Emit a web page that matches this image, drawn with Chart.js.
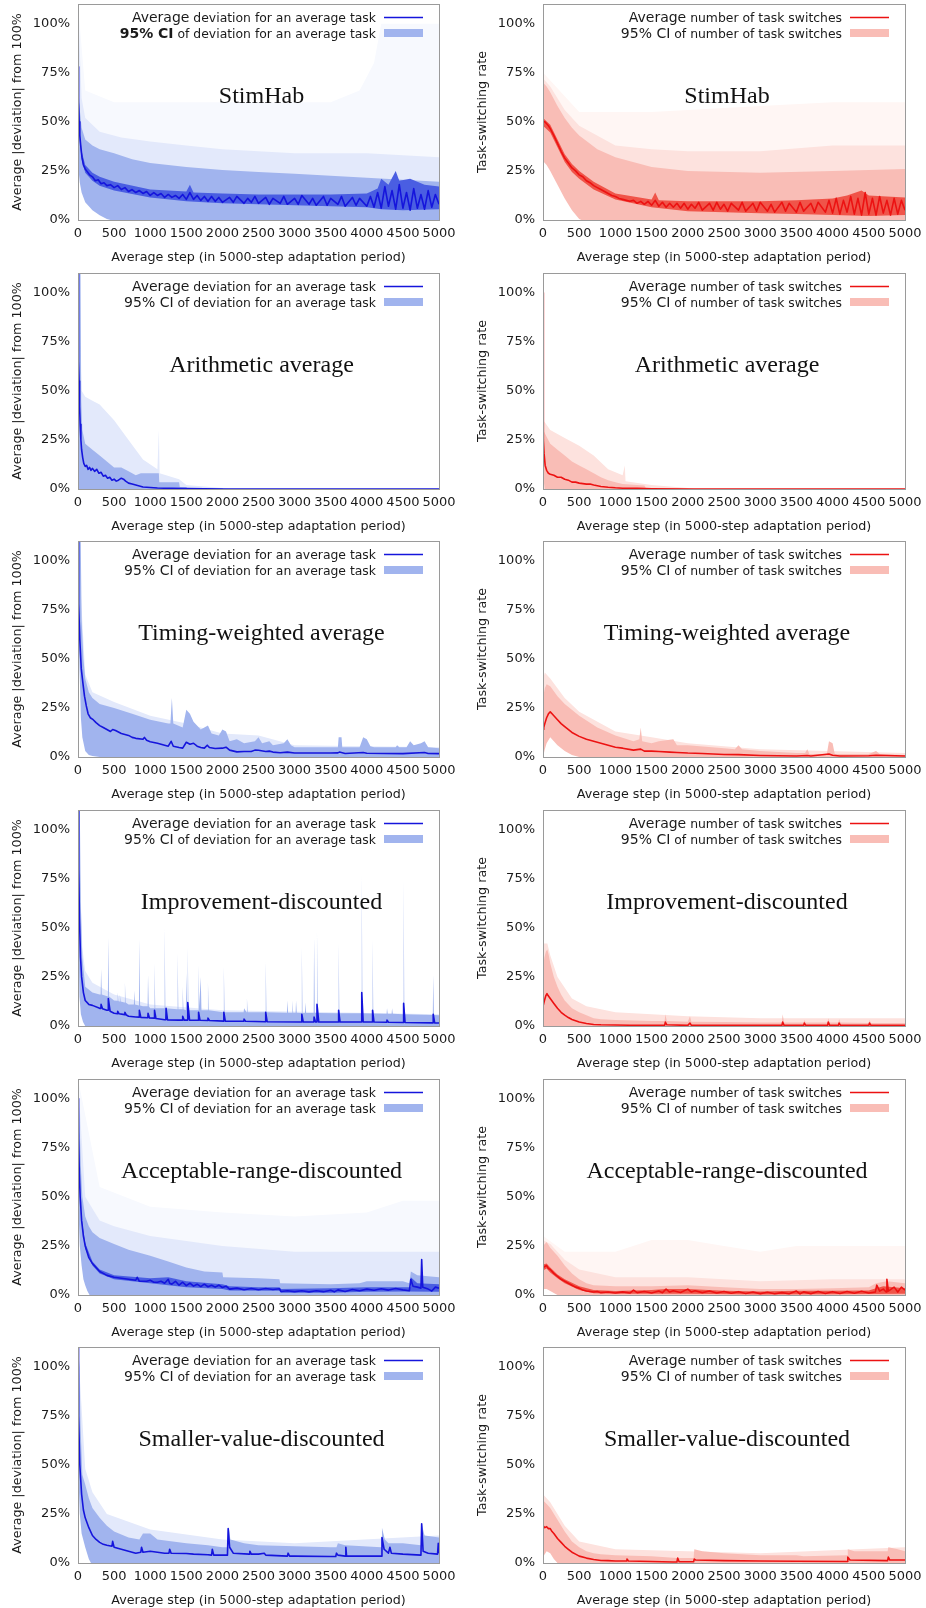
<!DOCTYPE html>
<html>
<head>
<meta charset="utf-8">
<script src="https://cdn.jsdelivr.net/npm/chart.js@4.4.1/dist/chart.umd.min.js"></script>
<style>
  html, body { margin: 0; padding: 0; background: #fff; width: 926px; height: 1608px; overflow: hidden; }
  .panel { position: absolute; width: 463px; height: 268px; }
</style>
</head>
<body>
<script>
const xTicks = [0, 500, 1000, 1500, 2000, 2500, 3000, 3500, 4000, 4500, 5000];
const yTicks = [0, 25, 50, 75, 100];
const panelTitles = ['StimHab', 'Arithmetic average', 'Timing-weighted average', 'Improvement-discounted', 'Acceptable-range-discounted', 'Smaller-value-discounted'];
const devAxisTitle = 'Average |deviation| from 100%';
const swAxisTitle = 'Task-switching rate';
const stepAxisTitle = 'Average step (in 5000-step adaptation period)';
const devLegend = ['Average', ' deviation for an average task', '95% CI', ' of deviation for an average task'];
const swLegend = ['Average', ' number of task switches', '95% CI', ' of number of task switches'];

// [step, percent] pairs

// StimHab
const shDevMean = [[0,78],[8,60],[16,50],[25,43],[40,37],[55,32],[75,28],[100,26],[130,24.5],[160,23],[200,22],[240,20],[280,20.5],[320,18.5],[360,19],[400,17.5],[450,18],[500,16.5],[550,17.5],[600,15.5],[650,16.5],[700,14.5],[750,15.5],[800,14],[850,15],[900,13.5],[950,14.5],[1000,12.5],[1050,14],[1100,12.5],[1150,13.5],[1200,11.5],[1250,13],[1300,11.5],[1350,12.5],[1400,11],[1450,13],[1500,10.5],[1550,14],[1600,10.5],[1650,12.5],[1700,10],[1750,12],[1800,9.5],[1850,12],[1900,9.5],[1950,11.5],[2000,9],[2100,11.5],[2150,9],[2200,12],[2300,8.5],[2350,11],[2400,9],[2450,12],[2500,8.5],[2600,11.5],[2650,8],[2700,11],[2800,8.5],[2850,12],[2900,8],[3000,11],[3050,8],[3100,12.5],[3200,8],[3250,11],[3300,7.5],[3400,12],[3450,7.5],[3500,11],[3600,8],[3650,12],[3700,7],[3800,11.5],[3850,7.5],[3900,11],[4000,7],[4050,12],[4100,6.5],[4150,14],[4200,6],[4250,17],[4300,7],[4350,15],[4400,5.5],[4450,18],[4500,6],[4550,14],[4600,5],[4650,16],[4700,6],[4750,13],[4800,5.5],[4850,15],[4900,6.5],[4950,13],[5000,8]];
const shDevNoiseHi = [[0,80],[25,45],[50,35],[100,28],[200,24],[300,22],[500,19.5],[1000,15.5],[1500,14.5],[1550,18],[1600,14],[2000,13.5],[2500,13],[3000,13],[3500,13],[4000,13.5],[4150,16],[4200,21],[4300,18],[4400,25],[4450,20],[4600,21],[4800,18],[5000,17]];
const shDevNoiseLo = [[0,76],[25,40],[50,31],[100,24],[200,20],[300,17.5],[500,15],[1000,11.5],[1500,9.5],[2000,8.5],[2500,8],[3000,7.5],[3500,7],[4000,6.5],[4200,5.5],[4500,5],[5000,5.5]];
const shDevLo = [[0,65],[5,40],[12,25],[25,19],[50,14],[100,9],[150,7],[200,5],[300,2.4],[400,0.5],[450,0],[5000,0]];
const shDevHi = [[0,110],[5,80],[12,65],[25,56],[50,47],[100,41],[200,38],[300,36],[500,34],[750,31],[1000,29],[1500,27],[2000,25.5],[2500,24.5],[3000,23.5],[3500,22.5],[4000,21.5],[4500,20.5],[5000,19.5]];
const shDevHaze = [[0,110],[50,62],[100,52],[300,45],[600,42],[1000,40],[1500,38],[2000,36],[3000,34],[4000,34],[5000,32]];
const shDevFaint = [[0,110],[100,66],[500,60],[3500,60],[3900,66],[4100,80],[4200,100],[5000,100]];

const shSwMean = [[0,50],[25,50],[50,49],[75,48],[100,46.5],[150,43],[200,39],[250,35],[300,31.5],[350,29],[400,26.5],[450,25],[500,23],[550,22],[600,20],[650,19],[700,17.5],[750,16.5],[800,15.5],[850,14.5],[900,13.5],[950,12.5],[1000,12],[1050,11],[1100,10.5],[1150,10],[1200,9.5],[1250,10],[1300,8.5],[1350,9.5],[1400,8],[1450,9.5],[1500,7.5],[1550,10],[1600,7],[1650,9],[1700,6.5],[1750,8.5],[1800,6.5],[1850,8.5],[1900,6],[1950,8.5],[2000,5.5],[2050,8],[2100,6],[2150,9],[2200,5],[2300,8.5],[2350,5],[2400,9],[2450,5.5],[2500,8],[2550,4.5],[2600,8.5],[2700,5],[2750,9],[2800,4.5],[2900,8.5],[2950,4.5],[3000,9],[3100,4.5],[3150,8],[3200,4],[3300,9],[3350,4.5],[3400,8.5],[3500,4],[3550,9],[3600,4.5],[3700,8.5],[3750,4],[3800,9],[3900,4],[3950,10],[4000,3.5],[4050,11],[4100,3],[4150,10],[4200,4],[4250,12],[4300,3],[4350,11],[4400,2.5],[4450,14],[4500,3],[4550,11],[4600,2.5],[4650,12],[4700,3.5],[4750,10],[4800,2.5],[4850,11],[4900,3],[4950,10],[5000,5]];
const shSwNoiseHi = [[0,52],[100,48.5],[200,41],[300,33.5],[400,28.5],[500,25],[700,19.5],[1000,13.5],[1500,10.5],[1550,14],[1600,10],[2000,9.5],[2500,9.5],[3000,9.5],[3500,10],[4000,11],[4200,12.5],[4400,15],[4500,12.5],[5000,11.5]];
const shSwNoiseLo = [[0,48],[100,44.5],[200,37],[300,29.5],[400,24.5],[500,21],[700,15.5],[1000,10.5],[1500,6.5],[2000,4.5],[2500,4],[3000,3.5],[3500,3],[4000,2.5],[4500,2],[5000,2.5]];
const shSwLo = [[0,30],[50,28],[100,25],[200,18],[300,11],[400,5],[500,0.5],[530,0],[5000,0]];
const shSwHi = [[0,70],[50,68],[100,65],[200,58],[300,52],[400,47],[500,43],[750,36],[1000,32],[1500,27],[2000,25],[3000,24],[4000,25],[5000,26]];
const shSwHaze = [[0,72],[100,68],[300,56],[500,48],[1000,38],[1500,36],[2000,35],[3000,35],[4000,38],[5000,38]];
const shSwFaint = [[0,100],[3,75],[500,55],[1000,55],[1500,55],[3000,58],[4000,60],[5000,60]];

// Arithmetic average
const arDevMean = [[0,110],[5,80],[10,65],[15,55],[22,42],[30,33],[40,25],[50,20],[65,16],[80,13],[100,11.5],[120,12],[140,10],[160,11],[180,9.5],[200,10.5],[230,9],[260,10],[290,8],[320,8.5],[350,6.5],[380,7],[410,5.5],[440,6],[470,4.5],[500,5],[530,4],[560,4.5],[600,5.5],[630,5],[660,4],[700,3],[750,2.5],[800,2],[850,1.5],[900,1],[1000,0.8],[1100,0.5],[1300,0.3],[1500,0.2],[2000,0],[5000,0]];
const arDevLo = [[0,70],[5,30],[12,0],[5000,0]];
const arDevHi = [[0,110],[35,110],[45,45],[60,30],[100,23],[200,20],[300,17],[400,14],[500,11],[600,11],[700,9],[800,7],[870,8],[1120,8],[1125,3.5],[1400,3.5],[1410,1],[1500,1],[1510,0.5],[2000,0.5],[2010,0],[5000,0]];
const arDevHaze = [[0,110],[50,50],[100,47],[200,45],[300,43],[500,35],[700,25],[900,15],[1100,10],[1120,30],[1130,8],[1400,5],[1500,2],[2000,0.5],[2100,0],[5000,0]];

const arSwMean = [[0,100],[2,35],[8,25],[15,18],[30,12],[50,9.5],[75,8],[100,7.5],[150,7],[200,6],[250,6],[300,5],[350,4.5],[400,3.5],[450,3.5],[500,3],[600,2.5],[650,2.5],[700,2],[800,1.3],[900,0.9],[1000,0.6],[1100,0.4],[1300,0.3],[1500,0.1],[2000,0],[5000,0]];
const arSwLo = [[0,15],[10,5],[20,0],[5000,0]];
const arSwHi = [[0,100],[5,30],[30,28],[100,23],[200,20],[300,17],[400,14],[500,12],[600,10],[700,8],[800,6],[900,4.5],[1000,3.5],[1100,2.5],[1400,1.8],[1420,0.5],[2000,0.3],[2010,0],[5000,0]];
const arSwHaze = [[0,100],[5,35],[100,30],[300,26],[500,22],[700,17],[900,10],[1100,7],[1130,12],[1140,4],[1500,2],[2000,0.5],[2100,0],[5000,0]];

// Timing-weighted average
const twDevMean = [[0,110],[5,90],[12,78],[25,60],[45,45],[70,37],[90,31],[115,26],[140,22],[170,20],[210,19],[250,17.5],[300,16],[350,15],[400,14],[450,13],[480,14],[520,13.5],[600,12],[700,11],[750,10],[800,9.5],[900,9],[920,10],[950,8.5],[1000,7.8],[1100,7],[1200,6],[1250,5.5],[1290,8],[1320,5.5],[1400,4.8],[1450,4.5],[1500,7.5],[1550,6.5],[1600,7],[1650,5.5],[1700,4.8],[1750,4.5],[1790,6],[1820,4.8],[1900,4.3],[2000,4.5],[2050,5],[2100,3.5],[2200,2.6],[2300,2.8],[2400,2.8],[2450,3.5],[2500,3.4],[2600,2.8],[2650,3],[2700,2.5],[2800,2.2],[2900,2.5],[3000,2],[3200,2],[3500,2],[3600,2.1],[3620,2.5],[3700,1.8],[3950,2.3],[4000,1.9],[4500,1.7],[4800,2.3],[4850,1.8],[5000,1.7]];
const twDevLo = [[0,90],[10,60],[25,40],[40,20],[60,10],[100,3],[150,1],[200,0.5],[300,0],[5000,0]];
const twDevHi = [[0,110],[38,110],[50,70],[75,50],[100,40],[150,33],[200,30],[300,27],[500,25],[750,22],[1000,19],[1250,17],[1280,17],[1300,30],[1320,17],[1450,15],[1500,24],[1550,22],[1600,18],[1700,14],[1800,16],[1850,12],[1950,11],[2000,14],[2050,13],[2100,8],[2200,9],[2300,7],[2450,8],[2500,10],[2550,7],[2650,8],[2700,6],[2850,7],[2900,9],[2950,6],[3000,5],[3600,5],[3610,10],[3650,10],[3660,5],[3900,5],[3950,10],[4000,9],[4050,5.5],[4100,5],[4400,5],[4420,6],[4450,5],[4550,5],[4600,8],[4650,6],[4750,7],[4800,8],[4850,5],[5000,4.5]];
const twDevHaze = [[0,110],[100,42],[200,33],[500,28],[1000,21],[1500,17],[2000,12],[2500,11],[3000,6],[5000,5]];

const twSwMean = [[0,14],[10,15],[25,17],[50,20],[75,22],[100,23],[125,22],[150,21],[200,19],[250,17],[300,15.5],[400,12.5],[500,10.5],[600,9],[750,7.5],[900,6],[1000,5],[1100,4.5],[1250,3.5],[1350,4],[1400,3],[1500,3],[1600,2.8],[1750,2.5],[1850,2.3],[2000,2],[2200,1.8],[2500,1.3],[2700,1.2],[3000,0.8],[3500,0.5],[3650,0.8],[3700,0.5],[3950,1.5],[4000,0.9],[4100,0.5],[4500,0.6],[4600,0.9],[5000,0.5]];
const twSwLo = [[0,0],[25,4],[50,7],[100,10],[150,8],[200,6],[300,3],[400,1],[500,0],[5000,0]];
const twSwHi = [[0,30],[25,35],[50,37],[100,36],[200,31],[300,27],[500,21],[750,15],[1000,11],[1250,8],[1330,9],[1350,15],[1370,8],[1500,7],[1600,8],[1800,9],[1850,6],[2000,6],[2500,4.5],[2650,4],[2700,6],[2750,4],[3000,3],[3500,2],[3620,2],[3650,4],[3680,1.5],[3920,1.5],[3950,8],[4000,7],[4030,1.5],[4500,1.5],[4600,3],[4650,1.5],[5000,1]];
const twSwHaze = [[0,100],[3,40],[25,43],[100,40],[300,30],[500,23],[1000,13],[1500,10],[2000,7],[3000,4],[5000,2]];

// Improvement-discounted
const imDevMean = [[0,110],[10,80],[20,55],[35,35],[50,25],[75,17],[100,13],[150,11],[200,10.5],[300,9],[317,9],[320,11],[340,8.8],[400,8],[417,8],[420,14],[445,7.5],[500,6.5],[547,6.3],[550,7.5],[570,6.2],[647,5.8],[650,7],[670,5.6],[700,5],[800,4.6],[847,4.5],[850,8],[870,4.4],[967,4.2],[970,6.5],[990,4.1],[1057,4],[1060,8],[1080,3.8],[1200,3.2],[1217,3.2],[1220,9],[1240,3.1],[1400,3],[1447,3],[1450,5],[1470,3],[1517,3],[1520,12],[1545,3],[1667,2.9],[1670,7],[1690,2.9],[1797,2.8],[1800,4],[1820,2.8],[2017,2.5],[2020,7],[2040,2.5],[2297,2.4],[2300,3.5],[2320,2.4],[2597,2.2],[2600,7],[2620,2.2],[3097,2],[3100,6],[3120,2],[3267,2],[3270,4.5],[3290,2],[3307,2],[3310,11],[3335,2],[3607,2],[3610,8],[3630,2],[3927,2],[3930,17],[3950,2],[4077,2],[4080,8],[4100,2],[4277,1.9],[4280,3],[4300,1.9],[4507,1.8],[4510,11.5],[4530,1.8],[4917,1.6],[4920,6],[4940,1.6],[5000,1.5]];
const imDevLo = [[0,85],[10,40],[20,15],[40,6],[70,2],[100,0],[5000,0]];
const imDevHi = [[0,110],[25,110],[40,60],[60,35],[100,20],[200,17],[300,16],[314,16],[320,29],[330,16],[414,15],[420,45],[430,15],[500,13],[544,12.8],[550,17],[560,12.7],[574,12.5],[580,16],[590,12.5],[644,12],[650,22],[660,12],[700,11],[774,11],[780,18],[790,11],[844,10.5],[850,44],[860,10.5],[900,10],[964,10],[970,26],[980,10],[1000,9],[1054,9],[1060,32],[1070,9],[1194,9],[1200,50],[1210,9],[1374,8.5],[1380,37],[1390,8.5],[1444,8.5],[1450,20],[1460,8.5],[1494,8],[1500,27],[1510,8],[1520,40],[1530,8],[1664,8],[1670,31],[1680,10],[1700,25],[1710,8],[1794,8],[1800,22],[1810,8],[2014,7],[2020,30],[2030,7],[2294,7],[2300,9],[2334,7],[2340,14],[2350,7],[2594,7],[2600,33],[2610,7],[2894,6.8],[2900,13],[2910,6.8],[2964,6.8],[2970,13],[2980,6.8],[3014,6.7],[3020,13],[3030,6.7],[3094,6.6],[3100,40],[3110,6.6],[3144,6.6],[3150,12],[3160,6.6],[3264,6.6],[3270,45],[3280,6.6],[3304,6.6],[3310,48],[3320,6.6],[3604,6.5],[3610,42],[3620,6.5],[3924,6.5],[3930,77],[3940,6.5],[4074,6.4],[4080,44],[4090,6.4],[4274,6.2],[4280,9],[4290,6.2],[4344,6.2],[4350,9],[4360,6.2],[4504,6],[4510,74],[4520,6],[4914,5.6],[4920,26],[4930,5.6],[5000,5.5]];
const imDevHaze = [[0,110],[60,40],[100,28],[200,22],[500,16],[1000,11],[2000,8],[5000,6]];

const imSwMean = [[0,10],[20,13],[40,15.5],[55,16.5],[70,15.5],[100,14],[150,11.5],[200,9],[250,7],[300,5.5],[350,4.3],[400,3.3],[500,2],[600,1.3],[700,0.8],[800,0.6],[1000,0.5],[1200,0.4],[1500,0.4],[1680,0.4],[1690,2],[1710,0.6],[2000,0.3],[2030,1.5],[2050,0.3],[3300,0.3],[3310,2],[3330,0.3],[3600,0.3],[3610,1.5],[3630,0.3],[3930,0.3],[3940,2],[3960,0.3],[4080,0.3],[4090,1.5],[4110,0.3],[4500,0.3],[4510,1.5],[4530,0.3],[5000,0.3]];
const imSwLo = [[0,0],[5000,0]];
const imSwHi = [[0,30],[20,35],[40,38],[60,39],[80,36],[100,32],[150,25],[200,20],[250,16],[300,13],[400,9],[500,7],[600,5.5],[700,4],[800,3.5],[1000,3],[1500,2.5],[1680,2.5],[1690,6],[1710,2.5],[2000,2.2],[2030,5],[2050,2.2],[2500,2],[3000,1.8],[3300,1.8],[3310,6],[3330,1.8],[3600,1.8],[3610,3],[3630,1.8],[3930,1.8],[3940,4],[3960,1.8],[4080,1.8],[4090,3.5],[4110,1.8],[4500,1.5],[4510,3],[4530,1.5],[5000,1.5]];
const imSwHaze = [[0,42],[60,42],[100,36],[200,25],[400,14],[600,10],[1000,7],[2000,5],[3000,4],[5000,4]];

// Acceptable-range-discounted
const acDevMean = [[0,100],[8,80],[18,62],[30,50],[50,38],[75,30],[100,25],[150,19],[200,16],[250,14],[300,12],[350,11],[400,10],[500,9],[600,8.5],[700,8],[800,7.5],[820,9],[850,7],[950,7],[1000,7.5],[1050,6.5],[1100,6.5],[1150,7],[1200,6],[1250,8],[1270,6],[1300,5.5],[1350,7],[1400,5],[1450,6.5],[1500,4.8],[1550,6],[1600,4.5],[1650,5.5],[1700,4.3],[1750,5.5],[1800,4.2],[1850,5],[1900,4],[1950,5],[2000,3.8],[2050,4.5],[2100,3],[2200,3.5],[2300,2.7],[2400,3.3],[2500,2.7],[2600,3.3],[2700,2.8],[2790,3.2],[2810,1.8],[2900,2.2],[3000,1.7],[3100,2.2],[3200,1.6],[3300,2.2],[3400,1.7],[3500,2.4],[3550,1.6],[3600,2.6],[3700,1.8],[3800,2.8],[3900,2.2],[4000,3],[4100,2.4],[4200,3.2],[4300,2.5],[4400,3.3],[4500,2.6],[4590,2.2],[4610,8],[4640,4.5],[4700,4],[4750,3.5],[4760,18],[4775,4],[4850,3],[4900,2],[4950,4],[5000,3.5]];
const acDevNoiseHi = [[0,100],[50,39],[100,26.5],[200,17],[300,13],[500,10],[1000,8.5],[1250,9],[1500,7],[2000,5.5],[2100,4.5],[2500,4],[2790,4],[2810,3],[3500,3.5],[4000,4],[4500,4],[4600,4],[4610,9],[4700,6],[5000,5.5]];
const acDevNoiseLo = [[0,98],[50,37],[100,23.5],[200,15],[300,11],[500,8],[1000,6],[1500,4],[2000,3],[2100,2.3],[2790,2.2],[2810,1.2],[3500,1.2],[4000,1.6],[4500,1.8],[5000,1.6]];
const acDevLo = [[0,60],[10,40],[25,25],[50,15],[75,8],[100,5],[130,2],[160,0],[5000,0]];
const acDevHi = [[0,110],[20,90],[40,65],[60,50],[100,40],[150,35],[200,32],[300,29],[500,26],[700,23],[1000,20],[1250,17],[1500,14],[1750,12],[2000,11.5],[2010,9],[2500,8.5],[2790,8],[2800,6],[3500,5.5],[3900,6],[4000,7],[4500,7],[4590,6],[4610,12],[4700,10],[5000,9]];
const acDevHaze = [[0,110],[100,50],[300,38],[500,35],[1000,30],[2000,25],[3000,22],[4000,22],[5000,22]];
const acDevFaint = [[0,110],[300,55],[1000,45],[2000,42],[3000,40],[4000,42],[4500,48],[5000,48]];

const acSwMean = [[0,14],[25,14.5],[50,15],[75,13.5],[100,13],[150,11],[200,9.5],[250,8],[300,7],[350,6],[400,5],[450,4],[500,3.5],[550,2.5],[600,2],[650,1.8],[700,1.5],[750,1.8],[800,1.2],[900,1.5],[1000,1],[1100,1.6],[1200,1],[1250,2.5],[1300,1.2],[1400,1.8],[1500,1],[1600,2],[1650,1.2],[1700,3],[1750,1.5],[1800,2.2],[1900,1.3],[2000,3],[2050,1.5],[2100,2.2],[2200,1.2],[2300,2],[2400,1],[2500,1.8],[2600,0.9],[2700,1.7],[2800,0.8],[2900,1.5],[3000,0.7],[3100,1.4],[3200,0.6],[3300,1.2],[3400,0.6],[3500,2],[3550,0.6],[3600,1.6],[3700,0.7],[3800,1.8],[3900,0.8],[4000,1.7],[4100,0.8],[4200,1.8],[4300,0.9],[4400,1.9],[4500,1],[4590,1.5],[4610,5],[4650,2],[4700,3],[4740,1.5],[4750,8],[4770,2],[4850,4],[4900,1.5],[4950,4],[5000,2.5]];
const acSwNoiseHi = [[0,15.5],[50,16],[100,14],[200,10.5],[300,8],[500,4.5],[700,2.5],[1000,2],[1500,2.5],[1700,3],[2000,3],[2500,2.2],[3000,1.8],[3500,2.2],[4000,2.2],[4500,2.3],[4600,3.5],[4700,4.5],[5000,3.5]];
const acSwNoiseLo = [[0,12.5],[50,13.5],[100,11.5],[200,8.5],[300,6],[500,2.5],[700,0.9],[1000,0.6],[2000,0.7],[3000,0.3],[4000,0.4],[5000,0.6]];
const acSwLo = [[0,3],[50,3],[100,2],[200,0],[5000,0]];
const acSwHi = [[0,25],[50,27],[100,24],[200,20],[300,15],[400,11],[500,8],[600,6],[700,5],[1000,4.5],[1500,4.5],[2000,5],[2500,4],[3000,3],[3500,3],[4000,3.5],[4500,4],[4600,6],[4750,7],[5000,6]];
const acSwHaze = [[0,28],[100,26],[300,18],[500,13],[1000,9],[1500,9],[2000,9],[3000,7],[4000,8],[5000,8]];
const acSwFaint = [[0,100],[3,30],[300,22],[1000,22],[1500,28],[2000,28],[2500,25],[3000,22],[3500,25],[5000,25]];

// Smaller-value-discounted
const svDevMean = [[0,110],[5,90],[10,75],[25,50],[50,35],[75,27],[100,23],[150,18],[200,14],[250,12],[300,10.5],[350,9.5],[400,9],[470,8.5],[480,11],[500,8],[600,7],[700,6],[800,5],[870,5.5],[880,8],[900,5.5],[1000,6],[1100,5.5],[1200,5],[1260,5],[1270,7],[1290,5],[1500,4.8],[1600,4.5],[1800,4.2],[1850,4],[1860,7],[1880,4],[2070,4],[2080,17.5],[2100,8],[2150,5],[2370,4.5],[2380,6],[2400,4.5],[2500,4.5],[2580,5],[2600,4],[2900,3.5],[2910,5],[2930,3.5],[3000,3.5],[3500,3.3],[3570,3.3],[3580,5],[3600,4],[3700,3.5],[3710,8],[3720,3.5],[4000,3.5],[4200,3.5],[4210,13],[4240,7],[4300,5],[4320,8],[4340,5],[4500,4.5],[4750,4],[4760,20],[4780,6],[4850,5],[4980,4.5],[4990,10],[5000,5]];
const svDevLo = [[0,70],[10,40],[25,25],[50,15],[100,8],[150,2],[180,0],[5000,0]];
const svDevHi = [[0,110],[20,100],[35,70],[60,45],[100,40],[150,33],[200,28],[300,23],[400,19],[500,16],[700,13],[850,12],[900,15],[1000,15],[1100,12],[1500,10],[1800,9],[2000,8],[2080,8],[2090,18],[2110,12],[2300,10],[2500,9],[3000,8.5],[3500,8],[3580,8],[3600,10],[3700,9],[4200,8],[4210,18],[4250,12],[4300,10],[4500,10],[4750,9],[4760,20],[4800,14],[5000,13]];
const svDevHaze = [[0,110],[100,48],[200,36],[400,25],[1000,17],[2000,12],[3000,10],[5000,14]];

const svSwMean = [[0,19],[25,18],[50,18.5],[75,17.5],[100,17.5],[125,16],[150,15],[200,12.5],[250,10.5],[300,8.5],[350,7],[400,5.5],[450,4.5],[500,3.5],[600,2.5],[700,1.8],[800,1.3],[900,1.2],[1000,1],[1150,1.1],[1160,2],[1180,1],[1500,0.8],[1800,0.5],[1850,0.5],[1860,2.5],[1880,0.6],[2080,0.6],[2090,2],[2110,1.5],[2500,1.2],[3000,1],[3500,0.9],[4200,0.8],[4210,3],[4240,1.5],[4760,1.2],[4770,3],[4790,1.5],[5000,1.5]];
const svSwLo = [[0,3],[50,6],[100,5],[150,2],[200,0],[5000,0]];
const svSwHi = [[0,32],[50,30],[100,28],[200,22],[300,16],[400,11],[500,8],[600,6],[700,5],[800,4.5],[1000,4],[1500,3.5],[1850,2.5],[2080,2.5],[2090,7],[2200,6],[2500,5],[3000,4],[3500,4],[3600,3.5],[4200,4],[4210,7],[4300,6],[4500,6],[4760,6],[4770,8],[4900,7],[5000,6]];
const svSwHaze = [[0,35],[100,31],[300,19],[500,11],[1000,7],[2000,6],[3000,5],[5000,8]];

const panels = [
  { kind: 'dev', title: panelTitles[0], mean: shDevMean, lo: shDevLo, hi: shDevHi, haze: shDevHaze, faint: shDevFaint, noiseHi: shDevNoiseHi, noiseLo: shDevNoiseLo, boldCI: true },
  { kind: 'sw',  title: panelTitles[0], mean: shSwMean,  lo: shSwLo,  hi: shSwHi,  haze: shSwHaze,  faint: shSwFaint, noiseHi: shSwNoiseHi, noiseLo: shSwNoiseLo },
  { kind: 'dev', title: panelTitles[1], mean: arDevMean, lo: arDevLo, hi: arDevHi, haze: arDevHaze },
  { kind: 'sw',  title: panelTitles[1], mean: arSwMean,  lo: arSwLo,  hi: arSwHi,  haze: arSwHaze },
  { kind: 'dev', title: panelTitles[2], mean: twDevMean, lo: twDevLo, hi: twDevHi, haze: twDevHaze },
  { kind: 'sw',  title: panelTitles[2], mean: twSwMean,  lo: twSwLo,  hi: twSwHi,  haze: twSwHaze },
  { kind: 'dev', title: panelTitles[3], mean: imDevMean, lo: imDevLo, hi: imDevHi, haze: imDevHaze },
  { kind: 'sw',  title: panelTitles[3], mean: imSwMean,  lo: imSwLo,  hi: imSwHi,  haze: imSwHaze },
  { kind: 'dev', title: panelTitles[4], mean: acDevMean, lo: acDevLo, hi: acDevHi, haze: acDevHaze, faint: acDevFaint, noiseHi: acDevNoiseHi, noiseLo: acDevNoiseLo },
  { kind: 'sw',  title: panelTitles[4], mean: acSwMean,  lo: acSwLo,  hi: acSwHi,  haze: acSwHaze,  faint: acSwFaint, noiseHi: acSwNoiseHi, noiseLo: acSwNoiseLo },
  { kind: 'dev', title: panelTitles[5], mean: svDevMean, lo: svDevLo, hi: svDevHi, haze: svDevHaze },
  { kind: 'sw',  title: panelTitles[5], mean: svSwMean,  lo: svSwLo,  hi: svSwHi,  haze: svSwHaze }
];

const looks = {
  dev: { line: '#1515dc', noise: '#4a5ee2', band: '#a1b4ee', haze: '#e3e9fb', faint: '#f7f9fe', axis: devAxisTitle, legend: devLegend, yWidth: 78, padRight: 24, titlePad: 10 },
  sw:  { line: '#ec1212', noise: '#f05449', band: '#f9bdb6', haze: '#fde2de', faint: '#fff6f4', axis: swAxisTitle,  legend: swLegend,  yWidth: 80, padRight: 21, titlePad: 12 }
};

const rowTops = [0, 269, 537, 806, 1075, 1343];
const sans = 'DejaVu Sans';
const ink = '#1a1a1a';

function pts(arr) { return arr.map(p => ({ x: p[0], y: p[1] })); }

function area(arr, color, order, fill) {
  return { data: pts(arr), backgroundColor: color, borderColor: 'rgba(0,0,0,0)', borderWidth: 0,
           pointRadius: 0, tension: 0, fill: fill === undefined ? 'origin' : fill, order: order };
}

// frame, panel title and the two-line key
function decoPlugin(p, look) {
  return {
    id: 'deco',
    afterDatasetsDraw(chart) {
      const { ctx, chartArea: ca } = chart;
      ctx.save();
      ctx.fillStyle = '#111';
      ctx.font = '24px "Liberation Serif"';
      ctx.textAlign = 'center';
      ctx.textBaseline = 'middle';
      ctx.fillText(p.title, (ca.left + ca.right) / 2 + 3, ca.top + 93);

      const textRight = ca.right - 63;
      const big = '14px "' + sans + '"';
      const small = '12.4px "' + sans + '"';
      const ciFont = p.boldCI ? 'bold 14px "' + sans + '"' : big;
      const rows = [
        [[look.legend[0], big], [look.legend[1], small]],
        [[look.legend[2], ciFont], [look.legend[3], small]]
      ];
      ctx.textAlign = 'left';
      ctx.textBaseline = 'alphabetic';
      ctx.fillStyle = ink;
      rows.forEach((parts, i) => {
        let w = 0;
        parts.forEach(([t, f]) => { ctx.font = f; w += ctx.measureText(t).width; });
        let x = textRight - w;
        parts.forEach(([t, f]) => { ctx.font = f; ctx.fillText(t, x, ca.top + 18 + i * 15.5); x += ctx.measureText(t).width; });
      });
      ctx.strokeStyle = look.line;
      ctx.lineWidth = 1.5;
      ctx.beginPath();
      ctx.moveTo(ca.right - 55, ca.top + 13.5);
      ctx.lineTo(ca.right - 16, ca.top + 13.5);
      ctx.stroke();
      ctx.fillStyle = look.band;
      ctx.fillRect(ca.right - 55, ca.top + 25, 39, 8);
      ctx.restore();
    },
    afterDraw(chart) {
      const { ctx, chartArea: ca } = chart;
      ctx.save();
      ctx.strokeStyle = '#9a9a9a';
      ctx.lineWidth = 1;
      ctx.strokeRect(Math.round(ca.left) + 0.5, Math.round(ca.top) + 0.5, Math.round(ca.right - ca.left), Math.round(ca.bottom - ca.top));
      ctx.restore();
    }
  };
}

panels.forEach((p, i) => {
  const look = looks[p.kind];
  const div = document.createElement('div');
  div.className = 'panel';
  div.style.left = (i % 2) * 463 + 'px';
  div.style.top = rowTops[Math.floor(i / 2)] + 'px';
  const canvas = document.createElement('canvas');
  canvas.width = 463;
  canvas.height = 268;
  div.appendChild(canvas);
  document.body.appendChild(div);

  const datasets = [
    { data: pts(p.mean), borderColor: look.line, borderWidth: 1.6, borderJoinStyle: 'round',
      pointRadius: 0, tension: 0, fill: false, order: 1 },
    area(p.lo, '#ffffff', 2),
    area(p.hi, look.band, 3),
    area(p.haze, look.haze, 4)
  ];
  if (p.faint) datasets.push(area(p.faint, look.faint, 5));
  if (p.noiseHi) {
    // spread of the noisy average, filled between its two edges
    datasets.push(area(p.noiseHi, look.noise, 1.5, datasets.length + 1));
    datasets.push(area(p.noiseLo, 'rgba(0,0,0,0)', 1.6, false));
  }

  new Chart(canvas.getContext('2d'), {
    type: 'line',
    data: { datasets: datasets },
    options: {
      responsive: false,
      animation: false,
      events: [],
      layout: { padding: { top: 4, right: look.padRight, bottom: 0, left: 0 } },
      plugins: { legend: { display: false }, tooltip: { enabled: false } },
      scales: {
        x: {
          type: 'linear', min: 0, max: 5000,
          afterBuildTicks: s => { s.ticks = xTicks.map(v => ({ value: v })); },
          afterFit: s => { s.height = 48; s.paddingLeft = 0; s.paddingRight = 0; },
          grid: { display: false, drawTicks: false },
          border: { display: false },
          ticks: { font: { family: sans, size: 13 }, color: ink, padding: 6, maxRotation: 0, autoSkip: false, callback: v => String(v) },
          title: { display: true, text: stepAxisTitle, color: ink, font: { family: sans, size: 12.7 }, padding: { top: 0, bottom: 3 } }
        },
        y: {
          type: 'linear', min: 0, max: 110,
          afterBuildTicks: s => { s.ticks = yTicks.map(v => ({ value: v })); },
          afterFit: s => { s.width = look.yWidth; s.paddingTop = 0; s.paddingBottom = 0; },
          grid: { display: false, drawTicks: false },
          border: { display: false },
          ticks: { font: { family: sans, size: 13 }, color: ink, padding: 8, callback: v => v + '%' },
          title: { display: true, text: look.axis, color: ink, font: { family: sans, size: 12.7 }, padding: { top: look.titlePad, bottom: 0 } }
        }
      }
    },
    plugins: [decoPlugin(p, look)]
  });
});
</script>
</body>
</html>
